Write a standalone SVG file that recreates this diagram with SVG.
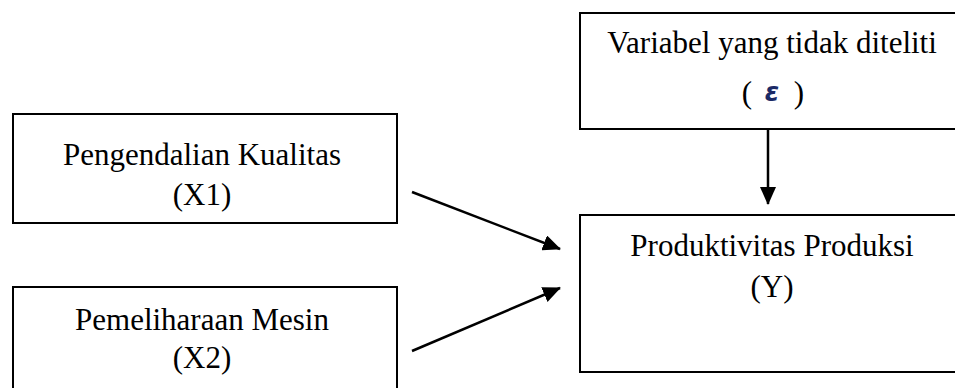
<svg xmlns="http://www.w3.org/2000/svg" width="955" height="388" viewBox="0 0 955 388">
<style>
.box{fill:#fff;stroke:#000;stroke-width:2}
.t{font-family:"Liberation Serif","Times New Roman",serif;font-size:31px;fill:#000;text-anchor:middle}
.c{stroke:#000;stroke-width:2.5;fill:none}
</style>
<defs>
<marker id="ah" markerUnits="userSpaceOnUse" markerWidth="18" markerHeight="16" refX="17" refY="8" orient="auto">
<path d="M0,0 L18,8 L0,16 Z" fill="#000"/>
</marker>
</defs>
<rect width="955" height="388" fill="#fff"/>
<g id="node-e">
<rect class="box" x="580" y="13" width="390" height="116"/>
<text class="t" x="772" y="53">Variabel yang tidak diteliti</text>
<text class="t" x="747" y="103">(</text>
<text class="t" x="799" y="103">)</text>
<text x="772" y="101" font-family="'DejaVu Sans',sans-serif" font-style="italic" font-weight="bold" font-size="26" fill="#1b2a66" text-anchor="middle">ε</text>
</g>
<g id="node-x1">
<rect class="box" x="13" y="114" width="384" height="109"/>
<text class="t" x="202" y="165">Pengendalian Kualitas</text>
<text class="t" x="202" y="205">(X1)</text>
</g>
<g id="node-x2">
<rect class="box" x="13" y="287" width="384" height="120"/>
<text class="t" x="202" y="330">Pemeliharaan Mesin</text>
<text class="t" x="202" y="368">(X2)</text>
</g>
<g id="node-y">
<rect class="box" x="580" y="215" width="390" height="157"/>
<text class="t" x="772" y="256">Produktivitas Produksi</text>
<text class="t" x="772" y="297">(Y)</text>
</g>
<g id="connectors">
<line class="c" x1="768" y1="129" x2="768" y2="204" marker-end="url(#ah)"/>
<line class="c" x1="412" y1="192" x2="560" y2="249" marker-end="url(#ah)"/>
<line class="c" x1="412" y1="351" x2="560" y2="288" marker-end="url(#ah)"/>
</g>
</svg>
